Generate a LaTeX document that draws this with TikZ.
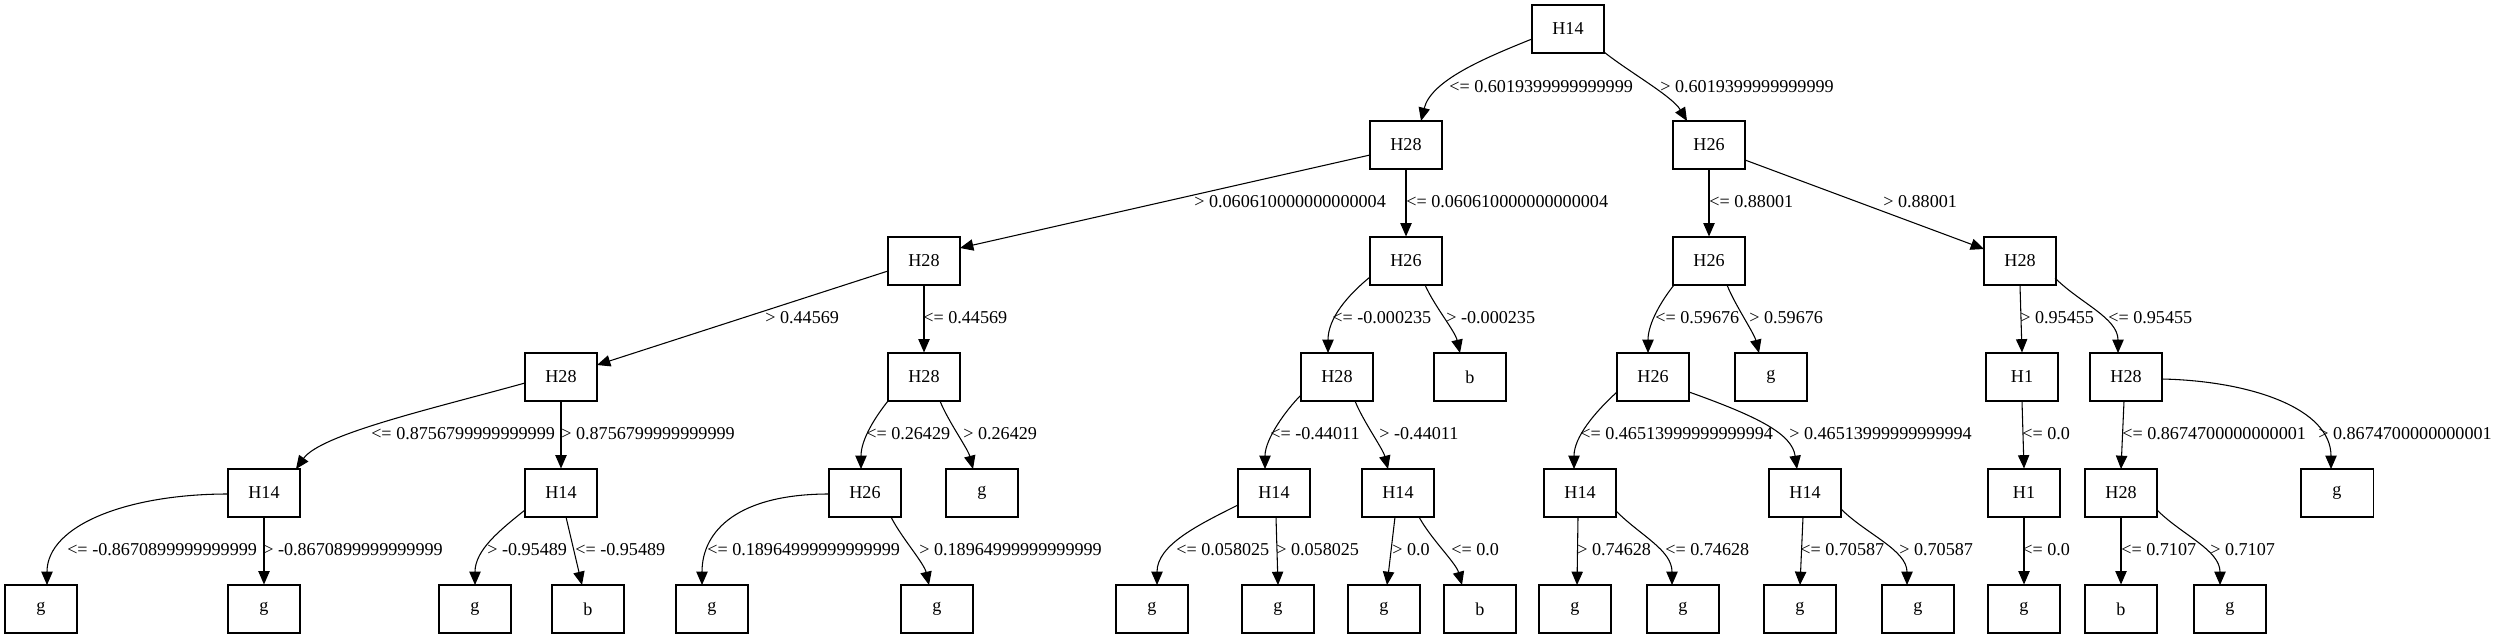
\documentclass[tikz,border=0pt]{standalone}
\usepackage{fontspec}
\setmainfont{Liberation Serif}
\usetikzlibrary{arrows.meta,calc}
\tikzset{
  tbox/.style={draw=black, line width=0.8pt, rectangle, minimum width=54pt, minimum height=36pt, inner sep=0pt, font=\fontsize{13.6}{16}\selectfont},
  lab/.style={anchor=west, inner sep=0pt, font=\fontsize{13.6}{16}\selectfont},
  conn/.style={draw=black, line width=0.8pt, -{Triangle[length=10pt,width=8.5pt]}}
}
\begin{document}
\begin{tikzpicture}[x=0.75pt, y=-0.75pt]
\useasboundingbox (0,0) rectangle (2501,639);
% level 0
\node[tbox] (root) at (1568,29) {H14};
% level 1
\node[tbox] (A) at (1406,145) {H28};
\node[tbox] (L) at (1709,145) {H26};
% level 2
\node[tbox] (B) at (924,261) {H28};
\node[tbox] (H) at (1406,261) {H26};
\node[tbox] (M) at (1709,261) {H26};
\node[tbox] (Q) at (2020,261) {H28};
% level 3
\node[tbox] (C) at (561,377) {H28};
\node[tbox] (F) at (924,377) {H28};
\node[tbox] (I) at (1337,377) {H28};
\node[tbox] (bH) at (1470,377) {b};
\node[tbox] (N) at (1653,377) {H26};
\node[tbox] (gM) at (1771,377) {g};
\node[tbox] (R) at (2022,377) {H1};
\node[tbox] (T) at (2126,377) {H28};
% level 4
\node[tbox] (D) at (264,493) {H14};
\node[tbox] (E) at (561,493) {H14};
\node[tbox] (G) at (865,493) {H26};
\node[tbox] (gF) at (982,493) {g};
\node[tbox] (J) at (1274,493) {H14};
\node[tbox] (K) at (1398,493) {H14};
\node[tbox] (O) at (1580,493) {H14};
\node[tbox] (P) at (1805,493) {H14};
\node[tbox] (S) at (2024,493) {H1};
\node[tbox] (U) at (2121,493) {H28};
\node[tbox] (gT) at (2337,493) {g};
% level 5
\node[tbox] (l1) at (41,609) {g};
\node[tbox] (l2) at (264,609) {g};
\node[tbox] (l3) at (475,609) {g};
\node[tbox] (l4) at (588,609) {b};
\node[tbox] (l5) at (712,609) {g};
\node[tbox] (l6) at (937,609) {g};
\node[tbox] (l7) at (1152,609) {g};
\node[tbox] (l8) at (1278,609) {g};
\node[tbox] (l9) at (1384,609) {g};
\node[tbox] (l10) at (1480,609) {b};
\node[tbox] (l11) at (1575,609) {g};
\node[tbox] (l12) at (1683,609) {g};
\node[tbox] (l13) at (1800,609) {g};
\node[tbox] (l14) at (1918,609) {g};
\node[tbox] (l15) at (2024,609) {g};
\node[tbox] (l16) at (2121,609) {b};
\node[tbox] (l17) at (2230,609) {g};

% connectors
\draw[conn] ($(root)+(-36,10)$) .. controls ($(root)+(-86,30)$) and ($(A)+(25,-64)$) .. ($(A)+(15,-24)$);
\draw[conn] ($(root)+(36,23)$) .. controls ($(root)+(61,43)$) and ($(L)+(-37,-49)$) .. ($(L)+(-22,-24)$);
\draw[conn] ($(A)+(-36,10)$) -- ($(B)+(36,-13)$);
\draw[conn] (A.south) -- (H.north);
\draw[conn] (L.south) -- (M.north);
\draw[conn] ($(L)+(36,15)$) -- ($(Q)+(-36,-12)$);
\draw[conn] ($(B)+(-36,10)$) -- ($(C)+(36,-12)$);
\draw[conn] (B.south) -- (F.north);
\draw[conn] ($(H)+(-36,16)$) .. controls ($(H)+(-58,34)$) and ($(I)+(-9,-59)$) .. ($(I)+(-9,-24)$);
\draw[conn] ($(H)+(19,24)$) .. controls ($(H)+(29,46)$) and ($(bH)+(-15,-46)$) .. ($(bH)+(-10,-24)$);
\draw[conn] ($(M)+(-35,24)$) .. controls ($(M)+(-47,39)$) and ($(N)+(-5,-54)$) .. ($(N)+(-5,-24)$);
\draw[conn] ($(M)+(18,24)$) .. controls ($(M)+(26,44)$) and ($(gM)+(-17,-44)$) .. ($(gM)+(-12,-24)$);
\draw[conn] (Q.south) -- (R.north);
\draw[conn] ($(Q)+(35,17)$) .. controls ($(Q)+(60,42)$) and ($(T)+(-8,-59)$) .. ($(T)+(-8,-24)$);
\draw[conn] ($(C)+(-36,6)$) .. controls ($(C)+(-126,31)$) and ($(D)+(57,-59)$) .. ($(D)+(32,-24)$);
\draw[conn] (C.south) -- (E.north);
\draw[conn] ($(F)+(-36,24)$) .. controls ($(F)+(-48,39)$) and ($(G)+(-4,-54)$) .. ($(G)+(-4,-24)$);
\draw[conn] ($(F)+(16,24)$) .. controls ($(F)+(24,44)$) and ($(gF)+(-14,-44)$) .. ($(gF)+(-9,-24)$);
\draw[conn] ($(I)+(-36,18)$) .. controls ($(I)+(-51,33)$) and ($(J)+(-9,-54)$) .. ($(J)+(-9,-24)$);
\draw[conn] ($(I)+(18,24)$) .. controls ($(I)+(26,44)$) and ($(K)+(-15,-44)$) .. ($(K)+(-10,-24)$);
\draw[conn] ($(N)+(-36,15)$) .. controls ($(N)+(-58,35)$) and ($(O)+(-6,-56)$) .. ($(O)+(-6,-24)$);
\draw[conn] ($(N)+(36,15)$) .. controls ($(N)+(106,40)$) and ($(P)+(-13,-59)$) .. ($(P)+(-8,-24)$);
\draw[conn] (R.south) -- (S.north);
\draw[conn] ($(T)+(-2,24)$) -- ($(U)+(0,-24)$);
\draw[conn] ($(T)+(36,2)$) .. controls ($(T)+(126,4)$) and ($(gT)+(-6,-84)$) .. ($(gT)+(-6,-24)$);
\draw[conn] ($(D)+(-36,1)$) .. controls ($(D)+(-136,1)$) and ($(l1)+(6,-84)$) .. ($(l1)+(6,-24)$);
\draw[conn] (D.south) -- (l2.north);
\draw[conn] ($(E)+(-36,17)$) .. controls ($(E)+(-61,37)$) and ($(l3)+(0,-59)$) .. ($(l3)+(0,-24)$);
\draw[conn] ($(E)+(5,24)$) -- ($(l4)+(-6,-24)$);
\draw[conn] ($(G)+(-36,1)$) .. controls ($(G)+(-126,1)$) and ($(l5)+(-10,-79)$) .. ($(l5)+(-10,-24)$);
\draw[conn] ($(G)+(26,24)$) .. controls ($(G)+(36,44)$) and ($(l6)+(-13,-46)$) .. ($(l6)+(-8,-24)$);
\draw[conn] ($(J)+(-36,12)$) .. controls ($(J)+(-76,32)$) and ($(l7)+(5,-64)$) .. ($(l7)+(5,-24)$);
\draw[conn] ($(J)+(2,24)$) -- ($(l8)+(0,-24)$);
\draw[conn] ($(K)+(-3,24)$) -- ($(l9)+(3,-24)$);
\draw[conn] ($(K)+(21,24)$) .. controls ($(K)+(33,46)$) and ($(l10)+(-24,-46)$) .. ($(l10)+(-18,-24)$);
\draw[conn] ($(O)+(-2,24)$) -- ($(l11)+(2,-24)$);
\draw[conn] ($(O)+(36,18)$) .. controls ($(O)+(61,43)$) and ($(l12)+(-11,-59)$) .. ($(l12)+(-11,-24)$);
\draw[conn] ($(P)+(-2,24)$) -- ($(l13)+(0,-24)$);
\draw[conn] ($(P)+(36,16)$) .. controls ($(P)+(61,41)$) and ($(l14)+(-11,-59)$) .. ($(l14)+(-11,-24)$);
\draw[conn] (S.south) -- (l15.north);
\draw[conn] (U.south) -- (l16.north);
\draw[conn] ($(U)+(36,17)$) .. controls ($(U)+(61,42)$) and ($(l17)+(-10,-59)$) .. ($(l17)+(-10,-24)$);

% labels
\node[lab] (t1) at (1449,87) {<= 0.6019399999999999};
\node[lab] (t2) at (1660,87) {> 0.6019399999999999};
\node[lab] (t3) at (1194,202) {> 0.060610000000000004};
\node[lab] (t4) at (1406,202) {<= 0.060610000000000004};
\node[lab] (t5) at (1709,202) {<= 0.88001};
\node[lab] (t6) at (1883,202) {> 0.88001};
\node[lab] (t7) at (765,318) {> 0.44569};
\node[lab] (t8) at (923,318) {<= 0.44569};
\node[lab] (t9) at (1332,318) {<= -0.000235};
\node[lab] (t10) at (1446,318) {> -0.000235};
\node[lab] (t11) at (1655,318) {<= 0.59676};
\node[lab] (t12) at (1749,318) {> 0.59676};
\node[lab] (t13) at (2020,318) {> 0.95455};
\node[lab] (t14) at (2108,318) {<= 0.95455};
\node[lab] (t15) at (371,434) {<= 0.8756799999999999};
\node[lab] (t16) at (561,434) {> 0.8756799999999999};
\node[lab] (t17) at (866,434) {<= 0.26429};
\node[lab] (t18) at (963,434) {> 0.26429};
\node[lab] (t19) at (1270,434) {<= -0.44011};
\node[lab] (t20) at (1379,434) {> -0.44011};
\node[lab] (t21) at (1580,434) {<= 0.46513999999999994};
\node[lab] (t22) at (1789,434) {> 0.46513999999999994};
\node[lab] (t23) at (2022,434) {<= 0.0};
\node[lab] (t24) at (2122,434) {<= 0.8674700000000001};
\node[lab] (t25) at (2318,434) {> 0.8674700000000001};
\node[lab] (t26) at (67,550) {<= -0.8670899999999999};
\node[lab] (t27) at (263,550) {> -0.8670899999999999};
\node[lab] (t28) at (487,550) {> -0.95489};
\node[lab] (t29) at (575,550) {<= -0.95489};
\node[lab] (t30) at (707,550) {<= 0.18964999999999999};
\node[lab] (t31) at (919,550) {> 0.18964999999999999};
\node[lab] (t32) at (1176,550) {<= 0.058025};
\node[lab] (t33) at (1276,550) {> 0.058025};
\node[lab] (t34) at (1392,550) {> 0.0};
\node[lab] (t35) at (1451,550) {<= 0.0};
\node[lab] (t36) at (1577,550) {> 0.74628};
\node[lab] (t37) at (1665,550) {<= 0.74628};
\node[lab] (t38) at (1800,550) {<= 0.70587};
\node[lab] (t39) at (1899,550) {> 0.70587};
\node[lab] (t40) at (2022,550) {<= 0.0};
\node[lab] (t41) at (2121,550) {<= 0.7107};
\node[lab] (t42) at (2210,550) {> 0.7107};
\end{tikzpicture}
\end{document}
